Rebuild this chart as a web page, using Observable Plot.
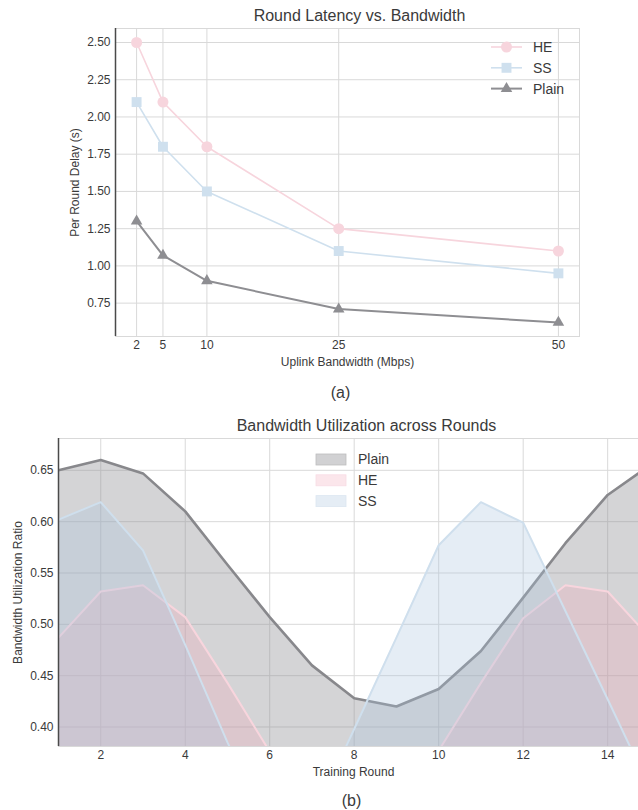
<!DOCTYPE html>
<html><head><meta charset="utf-8">
<script src="https://cdn.jsdelivr.net/npm/d3@7"></script>
<script src="https://cdn.jsdelivr.net/npm/@observablehq/plot@0.6"></script>
<style>
body{margin:0;background:#fff;font-family:"Liberation Sans",Arial,sans-serif;}
#wrap{position:relative;width:638px;height:810px;overflow:hidden;}
.chart{position:absolute;left:0;}
.overlay{position:absolute;left:0;top:0;pointer-events:none;}
</style></head><body><div id="wrap"></div>
<script>
// ---- Chart (a) data ----
const bandwidth = [2, 5, 10, 25, 50];
const heDelay = [2.5, 2.1, 1.8, 1.25, 1.1];
const ssDelay = [2.1, 1.8, 1.5, 1.1, 0.95];
const plainDelay = [1.3, 1.07, 0.9, 0.71, 0.62];
const delayTicks = [0.75, 1.0, 1.25, 1.5, 1.75, 2.0, 2.25, 2.5];
const bandwidthTicks = [2, 5, 10, 25, 50];

// ---- Chart (b) data ----
const rounds = [1, 2, 3, 4, 5, 6, 7, 8, 9, 10, 11, 12, 13, 14, 15];
const plainUtil = [0.65, 0.66, 0.647, 0.61, 0.558, 0.507, 0.46, 0.428, 0.42, 0.437, 0.474, 0.526, 0.579, 0.626, 0.655];
const heUtil = [0.487, 0.532, 0.538, 0.507, 0.443, 0.376, 0.33, 0.31, 0.33, 0.377, 0.443, 0.506, 0.538, 0.532, 0.487];
const ssUtil = [0.602, 0.619, 0.572, 0.48, 0.385, 0.30, 0.31, 0.398, 0.487, 0.577, 0.619, 0.599, 0.513, 0.427, 0.34];
const roundTicks = [2, 4, 6, 8, 10, 12, 14];
const utilTicks = [0.40, 0.45, 0.50, 0.55, 0.60, 0.65];

const FONT = '"Liberation Sans", Arial, sans-serif';
const TEXT = "#3a3a3a";
const GRID = "#d9d9d9";
const SPINE = "#4a4a4a";

const heColor = "#f7d5dd", ssColor = "#cfe0ee", plainColor = "#8e8e92";

const wrap = document.getElementById("wrap");

// ---------- Chart (a) ----------
const xDomA = [-0.4, 52.4];
const yDomA = [0.526, 2.594];
const rows = (vals) => bandwidth.map((b, i) => ({bw: b, delay: vals[i]}));
const heRows = rows(heDelay), ssRows = rows(ssDelay), plainRows = rows(plainDelay);

const chartA = Plot.plot({
  width: 638, height: 405,
  marginLeft: 115, marginRight: 59, marginTop: 28, marginBottom: 69,
  style: {fontFamily: FONT, fontSize: "12px", color: TEXT, background: "transparent", overflow: "visible"},
  x: {domain: xDomA},
  y: {domain: yDomA},
  marks: [
    Plot.gridX(bandwidthTicks, {stroke: GRID, strokeOpacity: 1, strokeWidth: 1}),
    Plot.gridY(delayTicks, {stroke: GRID, strokeOpacity: 1, strokeWidth: 1}),
    Plot.frame({stroke: GRID, strokeWidth: 1}),
    Plot.ruleX([xDomA[0]], {stroke: SPINE, strokeWidth: 1.5}),
    Plot.axisX(bandwidthTicks, {tickSize: 0, tickPadding: 4, label: null, fontSize: 12, color: TEXT}),
    Plot.axisY(delayTicks, {tickSize: 0, tickPadding: 5, label: null, tickFormat: d3.format(".2f"), fontSize: 12, color: TEXT}),
    Plot.line(heRows, {x: "bw", y: "delay", stroke: heColor, strokeWidth: 1.6}),
    Plot.line(ssRows, {x: "bw", y: "delay", stroke: ssColor, strokeWidth: 1.6}),
    Plot.line(plainRows, {x: "bw", y: "delay", stroke: plainColor, strokeWidth: 2}),
    Plot.dot(heRows, {x: "bw", y: "delay", symbol: "circle", r: 5.5, fill: heColor}),
    Plot.dot(ssRows, {x: "bw", y: "delay", symbol: "square", r: 5.6, fill: ssColor}),
    Plot.dot(plainRows, {x: "bw", y: "delay", symbol: "triangle", r: 4.3, fill: plainColor}),
    Plot.text(["Round Latency vs. Bandwidth"], {frameAnchor: "top", lineAnchor: "middle", dx: 12, dy: -13, fontSize: 16, fill: TEXT}),
    Plot.text(["Uplink Bandwidth (Mbps)"], {frameAnchor: "bottom", lineAnchor: "middle", dy: 26, fontSize: 12, fill: TEXT}),
    Plot.text(["Per Round Delay (s)"], {frameAnchor: "left", textAnchor: "middle", lineAnchor: "middle", dx: -40, rotate: -90, fontSize: 12, fill: TEXT}),
    Plot.text(["(a)"], {frameAnchor: "bottom", lineAnchor: "middle", dx: -7, dy: 56, fontSize: 16, fill: TEXT})
  ]
});
chartA.classList.add("chart");
chartA.style.top = "0px";
wrap.appendChild(chartA);

// ---------- Chart (b) ----------
const xDomB = [1, 14.73];
const yDomB = [0.381, 0.681];
const utilRows = (vals) => rounds.map((r, i) => ({round: r, v: vals[i]}));
const plainU = utilRows(plainUtil), heU = utilRows(heUtil), ssU = utilRows(ssUtil);

const chartB = Plot.plot({
  width: 638, height: 405,
  marginLeft: 58, marginRight: 0, marginTop: 33, marginBottom: 64,
  style: {fontFamily: FONT, fontSize: "12px", color: TEXT, background: "transparent", overflow: "visible"},
  x: {domain: xDomB},
  y: {domain: yDomB},
  marks: [
    Plot.gridX(roundTicks, {stroke: GRID, strokeOpacity: 1, strokeWidth: 1}),
    Plot.gridY(utilTicks, {stroke: GRID, strokeOpacity: 1, strokeWidth: 1}),
    Plot.frame({stroke: GRID, strokeWidth: 1}),
    Plot.areaY(plainU, {x: "round", y1: 0, y2: "v", fill: "#8e8e92", fillOpacity: 0.38, clip: true}),
    Plot.line(plainU, {x: "round", y: "v", stroke: "#88888c", strokeWidth: 2.6, clip: true}),
    Plot.areaY(heU, {x: "round", y1: 0, y2: "v", fill: "#f0a8bb", fillOpacity: 0.3, clip: true}),
    Plot.line(heU, {x: "round", y: "v", stroke: "#f8d5dd", strokeWidth: 2, clip: true}),
    Plot.areaY(ssU, {x: "round", y1: 0, y2: "v", fill: "#a8c3de", fillOpacity: 0.3, clip: true}),
    Plot.line(ssU, {x: "round", y: "v", stroke: "#cfdfed", strokeWidth: 2, clip: true}),
    Plot.ruleX([xDomB[0]], {stroke: SPINE, strokeWidth: 1.5}),
    Plot.axisX(roundTicks, {tickSize: 0, tickPadding: 4, label: null, fontSize: 12, color: TEXT}),
    Plot.axisY(utilTicks, {tickSize: 0, tickPadding: 5, label: null, tickFormat: d3.format(".2f"), fontSize: 12, color: TEXT}),
    Plot.text(["Bandwidth Utilization across Rounds"], {frameAnchor: "top", lineAnchor: "middle", dx: 18, dy: -13, fontSize: 16, fill: TEXT}),
    Plot.text(["Training Round"], {frameAnchor: "bottom", lineAnchor: "middle", dx: 5, dy: 26, fontSize: 12, fill: TEXT}),
    Plot.text(["Bandwidth Utilization Ratio"], {frameAnchor: "left", textAnchor: "middle", lineAnchor: "middle", dx: -40, rotate: -90, fontSize: 12, fill: TEXT}),
    Plot.text(["(b)"], {frameAnchor: "bottom", lineAnchor: "middle", dx: 3, dy: 54, fontSize: 16, fill: TEXT})
  ]
});
chartB.classList.add("chart");
chartB.style.top = "405px";
wrap.appendChild(chartB);

// ---------- Legends ----------
const ov = d3.select(wrap).append("svg").attr("class", "overlay")
  .attr("width", 638).attr("height", 810)
  .style("font-family", FONT).style("font-size", "14px");

const legA = [
  {name: "HE", color: heColor, sym: d3.symbolCircle, size: Math.PI * 5.5 * 5.5},
  {name: "SS", color: ssColor, sym: d3.symbolSquare, size: Math.PI * 5.6 * 5.6},
  {name: "Plain", color: plainColor, sym: d3.symbolTriangle, size: Math.PI * 4.3 * 4.3}
];
legA.forEach((d, i) => {
  const y = 47 + i * 20.8;
  ov.append("line").attr("x1", 491).attr("x2", 522).attr("y1", y).attr("y2", y)
    .attr("stroke", d.color).attr("stroke-width", d.name === "Plain" ? 2 : 1.6);
  ov.append("path").attr("d", d3.symbol(d.sym, d.size)()).attr("transform", `translate(506.5,${y})`).attr("fill", d.color);
  ov.append("text").attr("x", 533).attr("y", y).attr("dy", "0.35em").attr("fill", TEXT).text(d.name);
});

const legB = [
  {name: "Plain", fill: "#d1d1d3", stroke: "#bdbdbf"},
  {name: "HE", fill: "#fbe6eb", stroke: "#f8dde4"},
  {name: "SS", fill: "#e5edf5", stroke: "#dce7f1"}
];
legB.forEach((d, i) => {
  const y = 459.5 + i * 20.8;
  ov.append("rect").attr("x", 316).attr("y", y - 5.5).attr("width", 30).attr("height", 11)
    .attr("fill", d.fill).attr("stroke", d.stroke).attr("stroke-width", 0.8);
  ov.append("text").attr("x", 358).attr("y", y).attr("dy", "0.35em").attr("fill", TEXT).text(d.name);
});
</script></body></html>
